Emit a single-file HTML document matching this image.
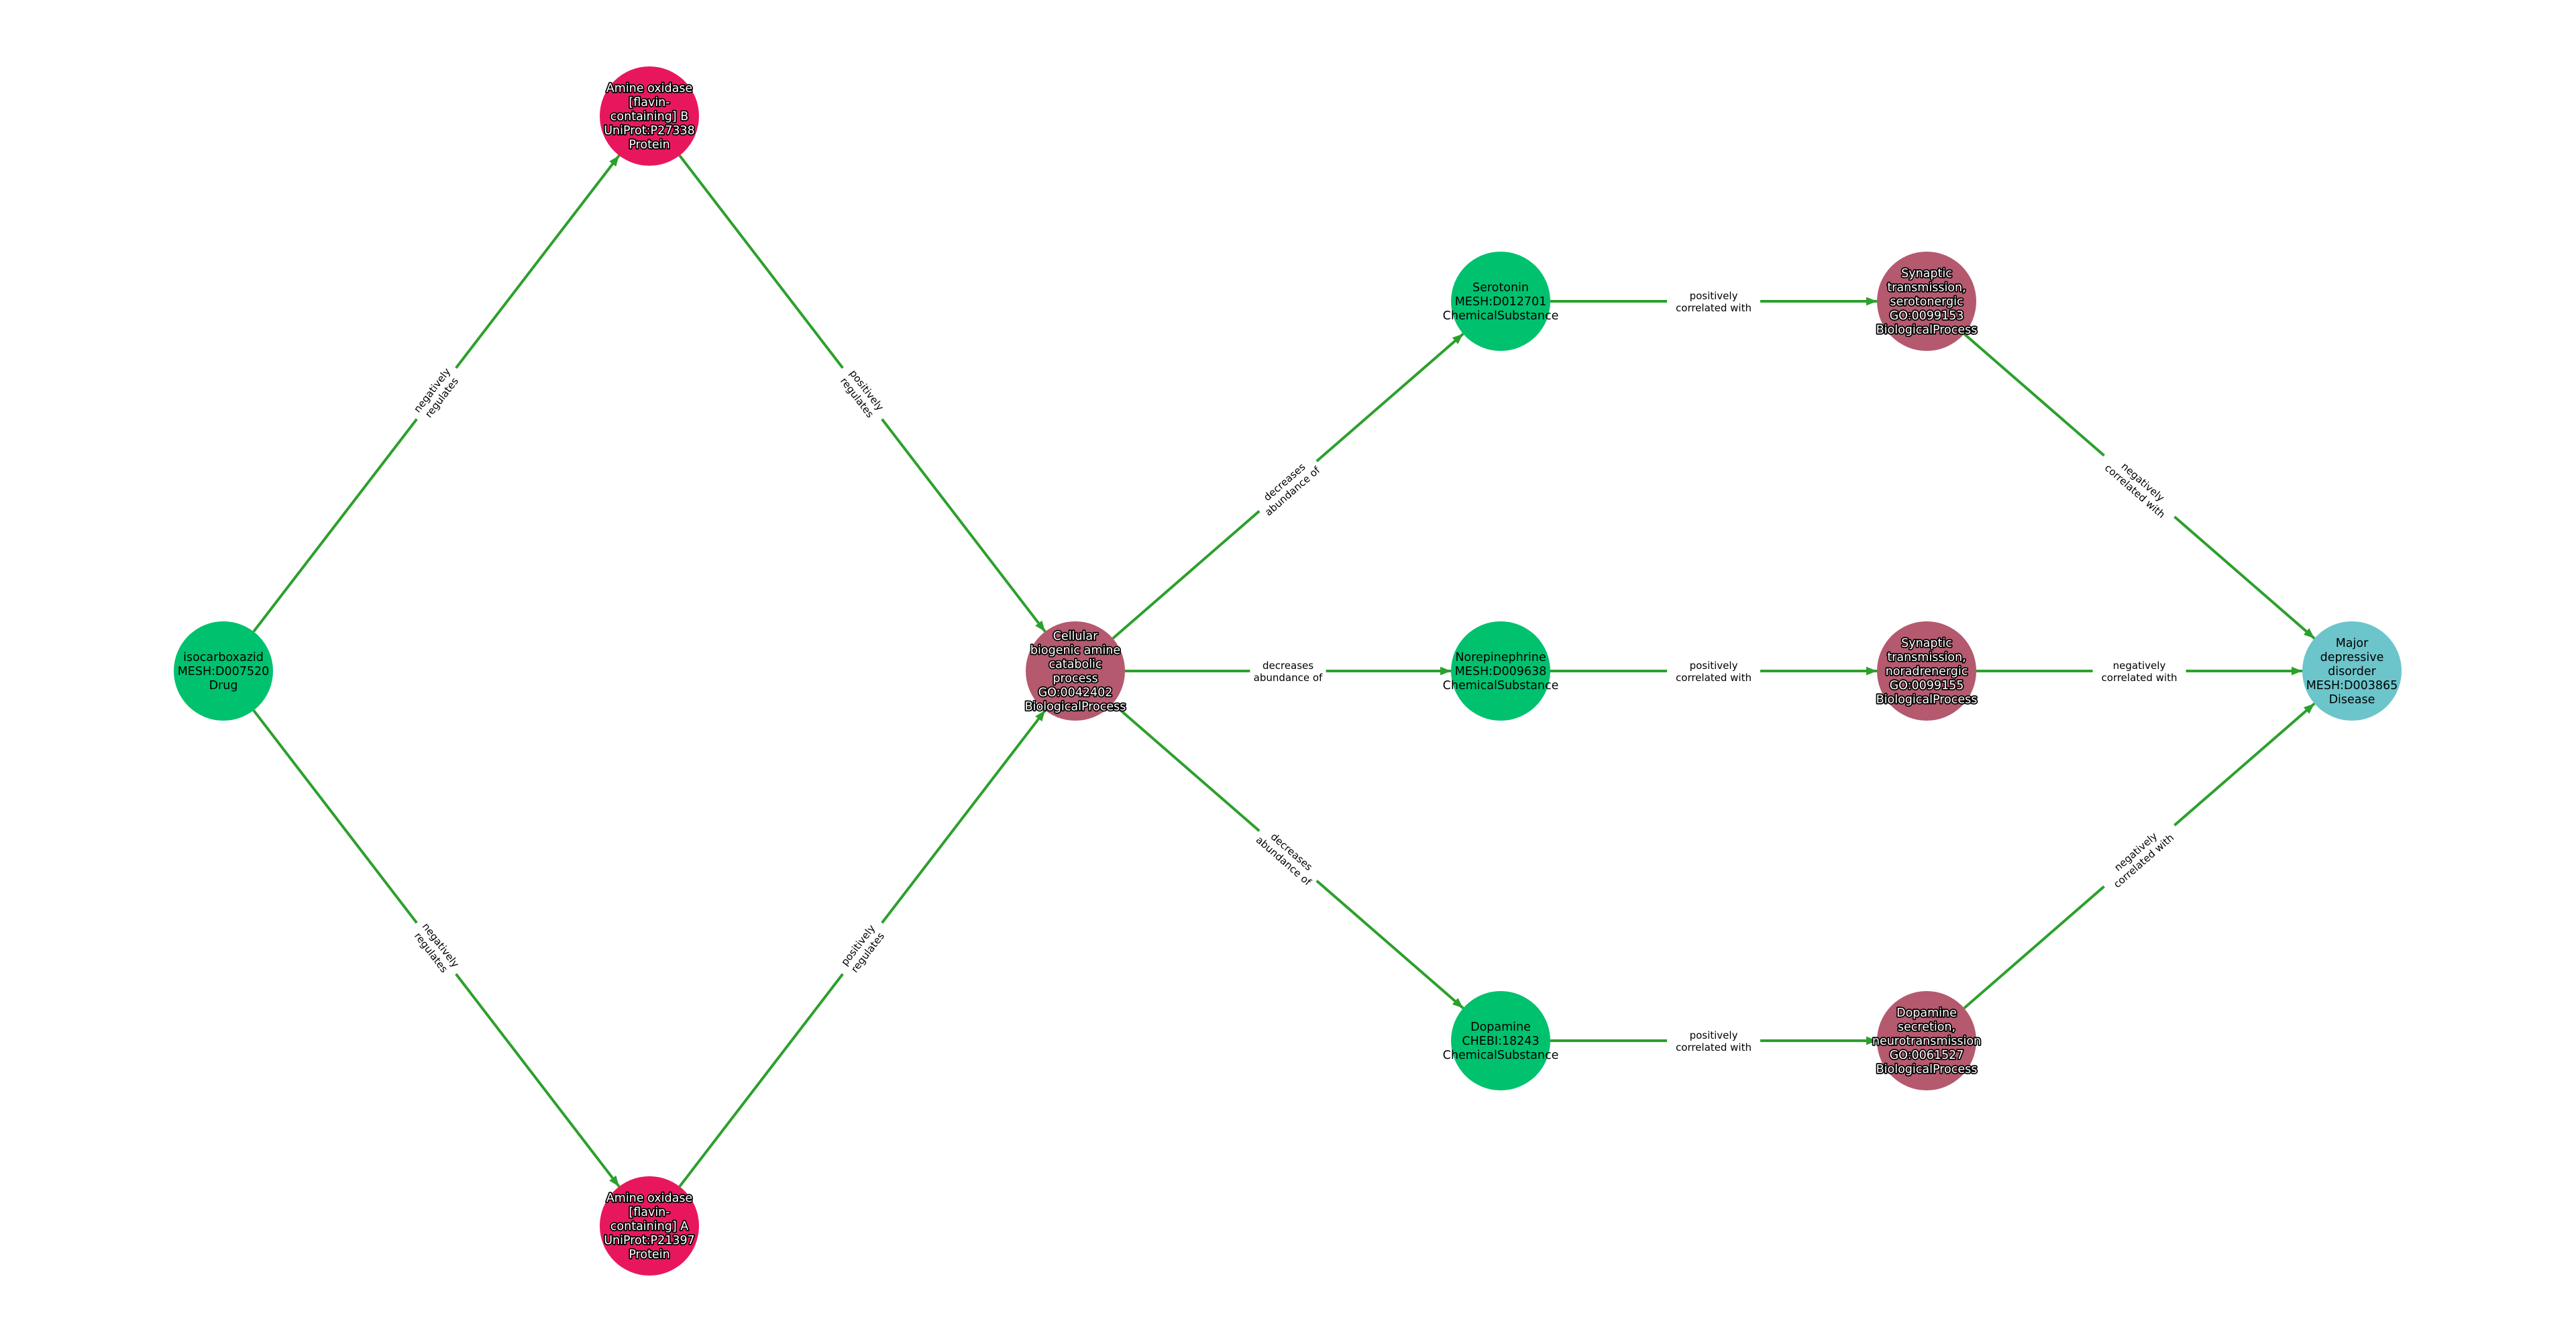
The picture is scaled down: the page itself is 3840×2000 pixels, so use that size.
<!DOCTYPE html>
<html><head><meta charset="utf-8"><style>
html,body{margin:0;padding:0;background:#fff;}
svg{display:block;}
text{font-family:"DejaVu Sans","Liberation Sans",sans-serif;}
</style></head><body>
<svg id="g" width="3840" height="2000" xmlns="http://www.w3.org/2000/svg">
<defs><marker id="a" markerWidth="10" markerHeight="8" refX="10" refY="4" orient="auto" markerUnits="userSpaceOnUse"><path d="M0,0 L10,4 L0,8 Z" fill="#2ca02c"/></marker>
<marker id="b" viewBox="0 0 10 8" markerWidth="16" markerHeight="13" refX="10" refY="4" orient="auto" markerUnits="userSpaceOnUse"><path d="M0,0 L10,4 L0,8 Z" fill="#2ca02c"/></marker></defs>
</svg>
<script>
var N={
iso:[333,1000,"#00c16e",0,["isocarboxazid","MESH:D007520","Drug"]],
maob:[968,173,"#e8175d",1,["Amine oxidase","[flavin-","containing] B","UniProt:P27338","Protein"]],
maoa:[968,1827,"#e8175d",1,["Amine oxidase","[flavin-","containing] A","UniProt:P21397","Protein"]],
cell:[1603,1000,"#b5596f",1,["Cellular","biogenic amine","catabolic","process","GO:0042402","BiologicalProcess"]],
ser:[2237,449,"#00c16e",0,["Serotonin","MESH:D012701","ChemicalSubstance"]],
nor:[2237,1000,"#00c16e",0,["Norepinephrine","MESH:D009638","ChemicalSubstance"]],
dop:[2237,1551,"#00c16e",0,["Dopamine","CHEBI:18243","ChemicalSubstance"]],
s1:[2872,449,"#b5596f",1,["Synaptic","transmission,","serotonergic","GO:0099153","BiologicalProcess"]],
s2:[2872,1000,"#b5596f",1,["Synaptic","transmission,","noradrenergic","GO:0099155","BiologicalProcess"]],
s3:[2872,1551,"#b5596f",1,["Dopamine","secretion,","neurotransmission","GO:0061527","BiologicalProcess"]],
mdd:[3506,1000,"#6cc5cb",0,["Major","depressive","disorder","MESH:D003865","Disease"]]
};
var E=[["iso","maob","negatively|regulates"],["iso","maoa","negatively|regulates"],["maob","cell","positively|regulates"],["maoa","cell","positively|regulates"],
["cell","ser","decreases|abundance of"],["cell","nor","decreases|abundance of"],["cell","dop","decreases|abundance of"],
["ser","s1","positively|correlated with"],["nor","s2","positively|correlated with"],["dop","s3","positively|correlated with"],
["s1","mdd","negatively|correlated with"],["s2","mdd","negatively|correlated with"],["s3","mdd","negatively|correlated with"]];
var R=74,s="";
E.forEach(function(e){var a=N[e[0]],b=N[e[1]];var dx=b[0]-a[0],dy=b[1]-a[1],L=Math.hypot(dx,dy),ux=dx/L,uy=dy/L;
s+='<line x1="'+(a[0]+ux*R)+'" y1="'+(a[1]+uy*R)+'" x2="'+(b[0]-ux*R)+'" y2="'+(b[1]-uy*R)+'" stroke="#2ca02c" stroke-width="4" marker-end="url(#b)"/>';
var mx=(a[0]+b[0])/2,my=(a[1]+b[1])/2,ang=Math.atan2(dy,dx)*180/Math.PI;var t=e[2].split("|");
s+='<g transform="translate('+mx+','+my+') rotate('+ang+')">';
var w=Math.max(t[0].length,t[1].length)*8.6+10;s+='<rect x="'+(-w/2)+'" y="-19" width="'+w+'" height="38" fill="#fff"/>';
s+='<text text-anchor="middle" font-size="15" fill="#000"><tspan x="0" y="-3">'+t[0]+'</tspan><tspan x="0" y="15">'+t[1]+'</tspan></text></g>';});
for(var k in N){var n=N[k];s+='<circle cx="'+n[0]+'" cy="'+n[1]+'" r="'+R+'" fill="'+n[2]+'"/>';
var L=n[4],lh=21,y0=n[1]-(L.length-1)*lh/2+6;
s+='<text text-anchor="middle" font-size="17.5" '+(n[3]?'fill="#fff" stroke="#000" stroke-width="3.5" paint-order="stroke" stroke-linejoin="round"':'fill="#000"')+'>';
L.forEach(function(l,i){s+='<tspan x="'+n[0]+'" y="'+(y0+i*lh)+'">'+l+'</tspan>';});s+='</text>';}
document.getElementById("g").insertAdjacentHTML("beforeend",s);
</script>
</body></html>
